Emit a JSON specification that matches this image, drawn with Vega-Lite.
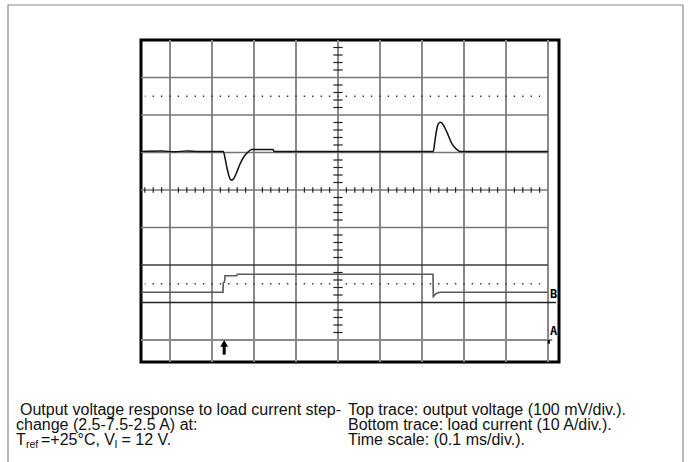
{
  "$schema": "https://vega.github.io/schema/vega-lite/v6.json",
  "width": 418,
  "height": 322,
  "autosize": "none",
  "padding": {"left": 141, "top": 40, "right": 131, "bottom": 100},
  "background": "white",
  "view": {"stroke": "#000000", "strokeWidth": 3},
  "datasets": {
    "vgrid": [{"x": -4}, {"x": -3}, {"x": -2}, {"x": -1}, {"x": 0}, {"x": 1}, {"x": 2}, {"x": 3}, {"x": 4}, {"x": 5}],
    "hgrid": [{"y": 3}, {"y": 2}, {"y": 1}, {"y": 0}, {"y": -1}],
    "dots": [{"y": 2.5}, {"y": -2.5}],
    "hticks": [{"x": -4.6}, {"x": -4.4}, {"x": -4.2}, {"x": -3.8}, {"x": -3.6}, {"x": -3.4}, {"x": -3.2}, {"x": -2.8}, {"x": -2.6}, {"x": -2.4}, {"x": -2.2}, {"x": -1.8}, {"x": -1.6}, {"x": -1.4}, {"x": -1.2}, {"x": -0.8}, {"x": -0.6}, {"x": -0.4}, {"x": -0.2}, {"x": 0.2}, {"x": 0.4}, {"x": 0.6}, {"x": 0.8}, {"x": 1.2}, {"x": 1.4}, {"x": 1.6}, {"x": 1.8}, {"x": 2.2}, {"x": 2.4}, {"x": 2.6}, {"x": 2.8}, {"x": 3.2}, {"x": 3.4}, {"x": 3.6}, {"x": 3.8}, {"x": 4.2}, {"x": 4.4}, {"x": 4.6}, {"x": 4.8}],
    "vticks": [{"y": 3.8}, {"y": 3.6}, {"y": 3.4}, {"y": 3.2}, {"y": 2.8}, {"y": 2.6}, {"y": 2.4}, {"y": 2.2}, {"y": 1.8}, {"y": 1.6}, {"y": 1.4}, {"y": 1.2}, {"y": 0.8}, {"y": 0.6}, {"y": 0.4}, {"y": 0.2}, {"y": -0.2}, {"y": -0.4}, {"y": -0.6}, {"y": -0.8}, {"y": -1.2}, {"y": -1.4}, {"y": -1.6}, {"y": -1.8}, {"y": -2.2}, {"y": -2.4}, {"y": -2.6}, {"y": -2.8}, {"y": -3.2}, {"y": -3.4}, {"y": -3.6}, {"y": -3.8}],
    "voltage": [
      {"x": -4.69, "y": 1.03}, {"x": -4.2, "y": 1.04}, {"x": -3.9, "y": 1.02}, {"x": -3.6, "y": 1.04}, {"x": -3.3, "y": 1.03},
      {"x": -2.731, "y": 1.03}, {"x": -2.69, "y": 0.853}, {"x": -2.643, "y": 0.587}, {"x": -2.595, "y": 0.373},
      {"x": -2.548, "y": 0.267}, {"x": -2.5, "y": 0.28}, {"x": -2.429, "y": 0.427}, {"x": -2.333, "y": 0.693},
      {"x": -2.238, "y": 0.893}, {"x": -2.155, "y": 1.0}, {"x": -2.055, "y": 1.077}, {"x": -1.548, "y": 1.077},
      {"x": -1.524, "y": 1.03}, {"x": 2.269, "y": 1.03}, {"x": 2.31, "y": 1.333}, {"x": 2.364, "y": 1.688},
      {"x": 2.412, "y": 1.795}, {"x": 2.445, "y": 1.805}, {"x": 2.5, "y": 1.747}, {"x": 2.588, "y": 1.555},
      {"x": 2.707, "y": 1.245}, {"x": 2.826, "y": 1.085}, {"x": 2.905, "y": 1.03}, {"x": 5.0, "y": 1.03}
    ],
    "current": [
      {"x": -4.69, "y": -2.728}, {"x": -2.738, "y": -2.728}, {"x": -2.731, "y": -2.48}, {"x": -2.702, "y": -2.453},
      {"x": -2.69, "y": -2.285}, {"x": -2.412, "y": -2.285}, {"x": -2.4, "y": -2.248}, {"x": 2.262, "y": -2.248},
      {"x": 2.269, "y": -2.845}, {"x": 2.333, "y": -2.76}, {"x": 2.429, "y": -2.728}, {"x": 5.0, "y": -2.728}
    ],
    "labels": [{"x": 5.05, "y": -2.87, "t": "B"}, {"x": 5.05, "y": -3.86, "t": "A"}],
    "caption": [
      {"x": -7.571, "y": -6.0, "t": "Output voltage response to load current step-"},
      {"x": -7.667, "y": -6.4, "t": "change (2.5-7.5-2.5 A) at:"},
      {"x": -7.667, "y": -6.808, "t": "T"},
      {"x": -7.071, "y": -6.808, "t": "=+25°C, V"},
      {"x": -5.155, "y": -6.808, "t": "= 12 V."},
      {"x": 0.238, "y": -6.0, "t": "Top trace: output voltage (100 mV/div.)."},
      {"x": 0.238, "y": -6.4, "t": "Bottom trace: load current (10 A/div.)."},
      {"x": 0.238, "y": -6.808, "t": "Time scale: (0.1 ms/div.)."}
    ],
    "subs": [{"x": -7.429, "y": -6.888, "t": "ref"}, {"x": -5.321, "y": -6.888, "t": "I"}]
  },
  "layer": [
    {
      "data": {"values": [{"n": 1}]},
      "mark": {"type": "rect", "fillOpacity": 0, "stroke": "#8c8c8c", "strokeWidth": 1.2},
      "encoding": {
        "x": {"datum": -7.857, "type": "quantitative", "scale": {"domain": [-4.6905, 5.2619], "nice": false, "zero": false}, "axis": null},
        "x2": {"datum": 8.214},
        "y": {"datum": 4.933, "type": "quantitative", "scale": {"domain": [-4.5867, 4], "nice": false, "zero": false}, "axis": null},
        "y2": {"datum": -7.6}
      }
    },
    {
      "data": {"name": "vgrid"},
      "mark": {"type": "rule", "color": "#8a8a8a", "strokeWidth": 2},
      "encoding": {
        "x": {"field": "x", "type": "quantitative", "scale": {"domain": [-4.6905, 5.2619], "nice": false, "zero": false}, "axis": null}
      }
    },
    {
      "data": {"name": "hgrid"},
      "mark": {"type": "rule", "color": "#777777", "strokeWidth": 1.6},
      "encoding": {
        "y": {"field": "y", "type": "quantitative", "scale": {"domain": [-4.5867, 4], "nice": false, "zero": false}, "axis": null},
        "x": {"datum": -4.6905, "type": "quantitative", "scale": {"domain": [-4.6905, 5.2619], "nice": false, "zero": false}, "axis": null},
        "x2": {"datum": 5}
      }
    },
    {
      "data": {"values": [{"y": -2}]},
      "mark": {"type": "rule", "color": "#3a3a3a", "strokeWidth": 1.6},
      "encoding": {
        "y": {"field": "y", "type": "quantitative", "scale": {"domain": [-4.5867, 4], "nice": false, "zero": false}, "axis": null},
        "x": {"datum": -4.6905, "type": "quantitative", "scale": {"domain": [-4.6905, 5.2619], "nice": false, "zero": false}, "axis": null},
        "x2": {"datum": 5}
      }
    },
    {
      "data": {"values": [{"y": -3}]},
      "mark": {"type": "rule", "color": "#222222", "strokeWidth": 1.6},
      "encoding": {
        "y": {"field": "y", "type": "quantitative", "scale": {"domain": [-4.5867, 4], "nice": false, "zero": false}, "axis": null},
        "x": {"datum": -4.6905, "type": "quantitative", "scale": {"domain": [-4.6905, 5.2619], "nice": false, "zero": false}, "axis": null},
        "x2": {"datum": 5.19}
      }
    },
    {
      "data": {"values": [{"y": -4}]},
      "mark": {"type": "rule", "color": "#8a8a8a", "strokeWidth": 1.8},
      "encoding": {
        "y": {"field": "y", "type": "quantitative", "scale": {"domain": [-4.5867, 4], "nice": false, "zero": false}, "axis": null},
        "x": {"datum": -4.6905, "type": "quantitative", "scale": {"domain": [-4.6905, 5.2619], "nice": false, "zero": false}, "axis": null},
        "x2": {"datum": 5.1}
      }
    },
    {
      "data": {"name": "dots"},
      "mark": {"type": "rule", "color": "#333333", "strokeWidth": 1.3, "strokeDash": [1.4, 7.0], "strokeDashOffset": 0.7},
      "encoding": {
        "y": {"field": "y", "type": "quantitative", "scale": {"domain": [-4.5867, 4], "nice": false, "zero": false}, "axis": null},
        "x": {"datum": -4.6, "type": "quantitative", "scale": {"domain": [-4.6905, 5.2619], "nice": false, "zero": false}, "axis": null},
        "x2": {"datum": 4.81}
      }
    },
    {
      "data": {"name": "hticks"},
      "mark": {"type": "rule", "color": "#222222", "strokeWidth": 1.2},
      "encoding": {
        "x": {"field": "x", "type": "quantitative", "scale": {"domain": [-4.6905, 5.2619], "nice": false, "zero": false}, "axis": null},
        "y": {"datum": 0.072, "type": "quantitative", "scale": {"domain": [-4.5867, 4], "nice": false, "zero": false}, "axis": null},
        "y2": {"datum": -0.072}
      }
    },
    {
      "data": {"name": "vticks"},
      "mark": {"type": "rule", "color": "#222222", "strokeWidth": 1.2},
      "encoding": {
        "y": {"field": "y", "type": "quantitative", "scale": {"domain": [-4.5867, 4], "nice": false, "zero": false}, "axis": null},
        "x": {"datum": -0.11, "type": "quantitative", "scale": {"domain": [-4.6905, 5.2619], "nice": false, "zero": false}, "axis": null},
        "x2": {"datum": 0.11}
      }
    },
    {
      "data": {"name": "current"},
      "mark": {"type": "line", "color": "#5a5a5a", "strokeWidth": 1.6, "interpolate": "linear"},
      "encoding": {
        "x": {"field": "x", "type": "quantitative", "scale": {"domain": [-4.6905, 5.2619], "nice": false, "zero": false}, "axis": null},
        "y": {"field": "y", "type": "quantitative", "scale": {"domain": [-4.5867, 4], "nice": false, "zero": false}, "axis": null}
      }
    },
    {
      "data": {"name": "voltage"},
      "mark": {"type": "line", "color": "#111111", "strokeWidth": 1.5, "interpolate": "monotone"},
      "encoding": {
        "x": {"field": "x", "type": "quantitative", "scale": {"domain": [-4.6905, 5.2619], "nice": false, "zero": false}, "axis": null},
        "y": {"field": "y", "type": "quantitative", "scale": {"domain": [-4.5867, 4], "nice": false, "zero": false}, "axis": null}
      }
    },
    {
      "data": {"name": "labels"},
      "mark": {"type": "text", "align": "left", "baseline": "alphabetic", "font": "DejaVu Sans Mono", "fontWeight": "bold", "fontSize": 12, "color": "#000000"},
      "encoding": {
        "x": {"field": "x", "type": "quantitative", "scale": {"domain": [-4.6905, 5.2619], "nice": false, "zero": false}, "axis": null},
        "y": {"field": "y", "type": "quantitative", "scale": {"domain": [-4.5867, 4], "nice": false, "zero": false}, "axis": null},
        "text": {"field": "t"}
      }
    },
    {
      "data": {"values": [{"n": 1}]},
      "mark": {"type": "rule", "color": "#000000", "strokeWidth": 2},
      "encoding": {
        "x": {"datum": 5.02, "type": "quantitative", "scale": {"domain": [-4.6905, 5.2619], "nice": false, "zero": false}, "axis": null},
        "y": {"datum": -4.0, "type": "quantitative", "scale": {"domain": [-4.5867, 4], "nice": false, "zero": false}, "axis": null},
        "y2": {"datum": -4.1}
      }
    },
    {
      "data": {"values": [{"n": 1}]},
      "mark": {"type": "rule", "color": "#000000", "strokeWidth": 3},
      "encoding": {
        "x": {"datum": -2.71, "type": "quantitative", "scale": {"domain": [-4.6905, 5.2619], "nice": false, "zero": false}, "axis": null},
        "y": {"datum": -4.12, "type": "quantitative", "scale": {"domain": [-4.5867, 4], "nice": false, "zero": false}, "axis": null},
        "y2": {"datum": -4.39}
      }
    },
    {
      "data": {"values": [{"n": 1}]},
      "mark": {"type": "point", "shape": "triangle-up", "filled": true, "color": "#000000", "size": 60, "opacity": 1},
      "encoding": {
        "x": {"datum": -2.71, "type": "quantitative", "scale": {"domain": [-4.6905, 5.2619], "nice": false, "zero": false}, "axis": null},
        "y": {"datum": -4.09, "type": "quantitative", "scale": {"domain": [-4.5867, 4], "nice": false, "zero": false}, "axis": null}
      }
    },
    {
      "data": {"name": "caption"},
      "mark": {"type": "text", "align": "left", "baseline": "alphabetic", "font": "Liberation Sans", "fontSize": 16, "color": "#111111"},
      "encoding": {
        "x": {"field": "x", "type": "quantitative", "scale": {"domain": [-4.6905, 5.2619], "nice": false, "zero": false}, "axis": null},
        "y": {"field": "y", "type": "quantitative", "scale": {"domain": [-4.5867, 4], "nice": false, "zero": false}, "axis": null},
        "text": {"field": "t"}
      }
    },
    {
      "data": {"name": "subs"},
      "mark": {"type": "text", "align": "left", "baseline": "alphabetic", "font": "Liberation Sans", "fontSize": 10.5, "color": "#111111"},
      "encoding": {
        "x": {"field": "x", "type": "quantitative", "scale": {"domain": [-4.6905, 5.2619], "nice": false, "zero": false}, "axis": null},
        "y": {"field": "y", "type": "quantitative", "scale": {"domain": [-4.5867, 4], "nice": false, "zero": false}, "axis": null},
        "text": {"field": "t"}
      }
    }
  ]
}
